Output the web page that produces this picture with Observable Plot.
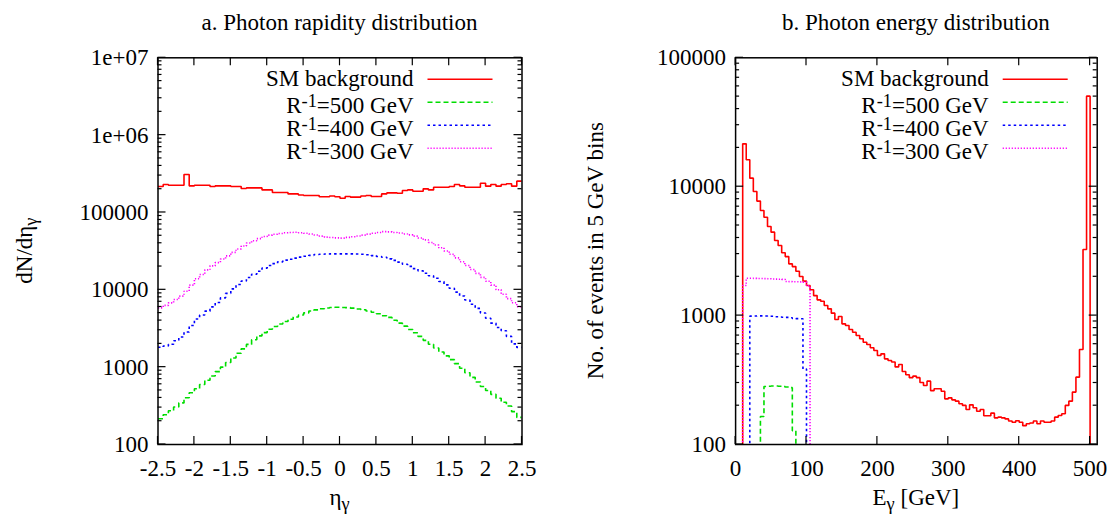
<!DOCTYPE html>
<html><head><meta charset="utf-8">
<script src="https://cdn.jsdelivr.net/npm/d3@7"></script>
<script src="https://cdn.jsdelivr.net/npm/@observablehq/plot@0.6"></script>
<style>
html,body{margin:0;padding:0;background:#fff;}
#wrap{position:relative;width:1111px;height:514px;overflow:hidden;background:#fff;}
#left{position:absolute;left:0;top:0;width:556px;height:514px;}
#right{position:absolute;left:556px;top:0;width:555px;height:514px;}
</style></head>
<body><div id="wrap"><div id="left"></div><div id="right"></div></div>
<script>
// ---------------- DATA ----------------
// Panel a: photon rapidity, 70 bins from -2.5 to 2.5
const etaStart = -2.5;
const etaBinWidth = 1 / 14;
const etaSM = [217000,230000,225000,225000,225000,310000,221000,225000,225000,225000,
  217000,221000,221000,221000,217000,217000,204000,208000,208000,208000,
  196000,196000,181000,181000,181000,174000,174000,168000,166000,166000,
  166000,160000,160000,163000,160000,153000,161000,158000,158000,163000,
  166000,161000,161000,174000,179000,179000,177000,192000,196000,188000,
  188000,202000,196000,212000,212000,212000,217000,230000,221000,212000,
  212000,212000,239000,219000,230000,219000,230000,235000,219000,254000];
const eta500 = [215,242,273,305,345,403,466,527,597,678,
  769,875,1000,1150,1315,1510,1725,1970,2260,2540,
  2800,3090,3350,3610,3890,4160,4450,4730,5030,5330,
  5510,5700,5820,5900,5960,5920,5880,5790,5660,5530,
  5320,5120,4900,4630,4400,4050,3710,3390,3070,2790,
  2500,2220,1980,1770,1570,1400,1250,1110,970,845,
  738,644,563,500,445,396,352,314,266,224];
const eta400 = [1810,1880,1980,2200,2450,2850,3460,4200,4720,5300,
  6010,6870,7870,9000,10300,11700,13000,14400,15900,17400,
  19100,20600,21800,23000,24200,24900,25700,26500,27200,27900,
  28600,28800,29000,29200,29200,29200,29200,29200,29000,28800,
  28400,27700,27000,26400,25100,24000,22800,21400,20100,18800,
  17600,16400,15200,14100,12800,11600,10500,9350,8330,7380,
  6520,5750,5010,4290,3710,3250,2950,2500,2000,1800];
const eta300 = [5850,6300,6780,7500,8300,9600,11500,13900,15800,18100,
  20400,22500,25000,27500,30500,33700,36800,40300,43100,45900,
  48900,51000,52300,53600,54700,55100,55500,54800,53800,52700,
  51100,49500,48000,47500,47000,46600,47600,48600,49600,51000,
  52500,53800,55100,56500,56100,55200,54300,52800,51300,49400,
  46800,44200,41000,37900,35000,31800,28800,25900,23100,20600,
  18300,16300,14500,12900,11500,10000,8770,7690,6790,6030];

// Panel b: photon energy, 5 GeV bins starting at 0 GeV (0 = empty bin)
const eStart = 0;
const eBinWidth = 5;
const eSM = [0,0,21500,16200,11650,9180,7730,6540,5800,4910,
  4440,3830,3500,3070,2870,2520,2400,2210,2010,1850,
  1710,1585,1430,1325,1293,1197,1128,1045,933,985,
  863,837,780,743,701,661,622,597,563,536,
  490,505,462,449,436,400,418,368,348,330,
  339,330,303,287,310,262,271,271,259,226,
  230,222,217,207,201,187,203,193,181,187,
  167,167,175,161,163,161,158,152,149,153,
  149,140,145,147,152,145,152,149,149,152,
  163,168,173,201,217,255,333,546,3260,50400,0];
const e500 = [0,0,0,0,0,0,0,165,282,283,284,284,283,281,279,276,128,0];
const e400 = [0,0,0,0,990,992,995,995,992,990,988,980,975,972,968,962,952,948,945,385,0];
const e300 = [0,0,1710,1950,1950,1945,1940,1940,1935,1930,1925,1920,1915,1910,1840,1835,1830,1830,1825,1820,1700,0];

// Ticks and labels
const etaTicks = [-2.5,-2,-1.5,-1,-0.5,0,0.5,1,1.5,2,2.5];
const etaYTicks = [100,1000,10000,100000,1000000,10000000];
const etaYTickLabels = ["100","1000","10000","100000","1e+06","1e+07"];
const eTicks = [0,100,200,300,400,500];
const eYTicks = [100,1000,10000,100000];
const eYTickLabels = ["100","1000","10000","100000"];

const seriesNames = ["SM background","R^{-1}=500 GeV","R^{-1}=400 GeV","R^{-1}=300 GeV"];
const titleA = "a. Photon rapidity distribution";
const titleB = "b. Photon energy distribution";
const xLabelA = "\u03b7_{\u03b3}";
const yLabelA = "dN/d\u03b7_{\u03b3}";
const xLabelB = "E_{\u03b3} [GeV]";
const yLabelB = "No. of events in 5 GeV bins";

// ---------------- STYLE ----------------
const FONT = "'Liberation Serif','Times New Roman',Times,serif";
const seriesColors = ["#ff0000","#00dd00","#0000ff","#ff00ff"];
const seriesDash = [null,"5,3","2.5,3","1.2,1.8"];
const lineWidth = 1.6;

// ---------------- HELPERS ----------------
function histRows(values, start, width) {
  const rows = values.map((v, i) => ({x: start + i * width, v}));
  rows.push({x: start + values.length * width, v: values[values.length - 1]});
  return rows;
}
const yVal = d => (d.v > 0 ? d.v : 1e-3); // empty bins fall below the axis (clipped)

function richText(textSel, str) {
  const re = /([\^_])\{([^}]*)\}/g;
  let last = 0, pending = 0, m;
  const add = (s, dy, size) => {
    const t = textSel.append("tspan").text(s);
    if (dy) t.attr("dy", dy);
    if (size) t.attr("font-size", size);
  };
  while ((m = re.exec(str))) {
    if (m.index > last) { add(str.slice(last, m.index), pending); pending = 0; }
    const shift = m[1] === "^" ? -5.5 : 4.5;
    add(m[2], pending + shift, "0.8em");
    pending = -shift;
    last = re.lastIndex;
  }
  if (last < str.length) add(str.slice(last), pending);
}

function minorLogTicks(domain) {
  const out = [];
  const lo = Math.round(Math.log10(domain[0])), hi = Math.round(Math.log10(domain[1]));
  for (let k = lo; k < hi; k++) for (let m = 2; m <= 9; m++) out.push(m * Math.pow(10, k));
  return out;
}

function borderTicks(xTicks, yMajor, yMinor) {
  return (index, scales, values, d) => {
    const L = d.marginLeft, R = d.width - d.marginRight, T = d.marginTop, B = d.height - d.marginBottom;
    const g = d3.create("svg:g").attr("stroke", "#000").attr("stroke-width", 1.2);
    const seg = (x1, y1, x2, y2) => g.append("line").attr("x1", x1).attr("y1", y1).attr("x2", x2).attr("y2", y2);
    for (const t of xTicks) { const px = scales.x(t); seg(px, B, px, B - 8); seg(px, T, px, T + 8); }
    for (const t of yMajor) { const py = scales.y(t); seg(L, py, L + 8, py); seg(R, py, R - 8, py); }
    for (const t of yMinor) { const py = scales.y(t); seg(L, py, L + 4, py); seg(R, py, R - 4, py); }
    return g.node();
  };
}

function legendMark() {
  return (index, scales, values, d) => {
    const R = d.width - d.marginRight, T = d.marginTop;
    const g = d3.create("svg:g").attr("fill", "#000");
    seriesNames.forEach((name, i) => {
      const yy = T + 22 + 23 * i;
      const ln = g.append("line").attr("x1", R - 94).attr("x2", R - 29).attr("y1", yy).attr("y2", yy)
        .attr("stroke", seriesColors[i]).attr("stroke-width", lineWidth);
      if (seriesDash[i]) ln.attr("stroke-dasharray", seriesDash[i]);
      const t = g.append("text").attr("x", R - 108).attr("y", yy + (name.includes("^{") ? 10.3 : 6.8))
        .attr("text-anchor", "end");
      richText(t, name);
    });
    return g.node();
  };
}

function annotations(title, xLabel, yLabel, yLabelX) {
  return (index, scales, values, d) => {
    const cx = (d.marginLeft + d.width - d.marginRight) / 2;
    const cy = (d.marginTop + d.height - d.marginBottom) / 2;
    const g = d3.create("svg:g").attr("fill", "#000").attr("text-anchor", "middle");
    richText(g.append("text").attr("x", cx).attr("y", 29.5), title);
    richText(g.append("text").attr("x", cx).attr("y", 505), xLabel);
    richText(g.append("text").attr("transform", `translate(${yLabelX},${cy}) rotate(-90)`), yLabel);
    return g.node();
  };
}

function seriesLines(arrays, start, width) {
  return arrays.map((vals, i) => Plot.line(histRows(vals, start, width), {
    x: "x", y: yVal, curve: "step-after", clip: true,
    stroke: seriesColors[i], strokeWidth: lineWidth,
    strokeDasharray: seriesDash[i] || undefined, strokeLinejoin: "miter", strokeLinecap: "butt"
  }));
}

const plotStyle = {fontFamily: FONT, fontSize: "23px", color: "#000", background: "#fff", overflow: "visible"};

// ---------------- PANEL A ----------------
const etaYDomain = [100, 1e7];
const plotA = Plot.plot({
  width: 556, height: 514,
  marginLeft: 157.5, marginRight: 34.5, marginTop: 57.3, marginBottom: 70,
  style: plotStyle,
  x: {domain: [-2.5, 2.5]},
  y: {type: "log", domain: etaYDomain},
  marks: [
    ...seriesLines([etaSM, eta500, eta400, eta300], etaStart, etaBinWidth),
    Plot.frame({stroke: "#000", strokeWidth: 1.5}),
    Plot.axisX({ticks: etaTicks, tickFormat: d => String(d), tickSize: 0, tickPadding: 15, label: null}),
    Plot.axisY({ticks: etaYTicks, tickFormat: d => etaYTickLabels[etaYTicks.indexOf(d)], tickSize: 0, tickPadding: 9.5, label: null}),
    borderTicks(etaTicks, etaYTicks, minorLogTicks(etaYDomain)),
    legendMark(),
    annotations(titleA, xLabelA, yLabelA, 32)
  ]
});
document.getElementById("left").appendChild(plotA);

// ---------------- PANEL B ----------------
const eYDomain = [100, 1e5];
const plotB = Plot.plot({
  width: 555, height: 514,
  marginLeft: 179.1, marginRight: 14.3, marginTop: 57.3, marginBottom: 70,
  style: plotStyle,
  x: {domain: [0, 510]},
  y: {type: "log", domain: eYDomain},
  marks: [
    ...seriesLines([eSM, e500, e400, e300], eStart, eBinWidth),
    Plot.frame({stroke: "#000", strokeWidth: 1.5}),
    Plot.axisX({ticks: eTicks, tickFormat: d => String(d), tickSize: 0, tickPadding: 15, label: null}),
    Plot.axisY({ticks: eYTicks, tickFormat: d => eYTickLabels[eYTicks.indexOf(d)], tickSize: 0, tickPadding: 9.5, label: null}),
    borderTicks(eTicks, eYTicks, minorLogTicks(eYDomain)),
    legendMark(),
    annotations(titleB, xLabelB, yLabelB, 47)
  ]
});
document.getElementById("right").appendChild(plotB);
</script>
</body></html>
